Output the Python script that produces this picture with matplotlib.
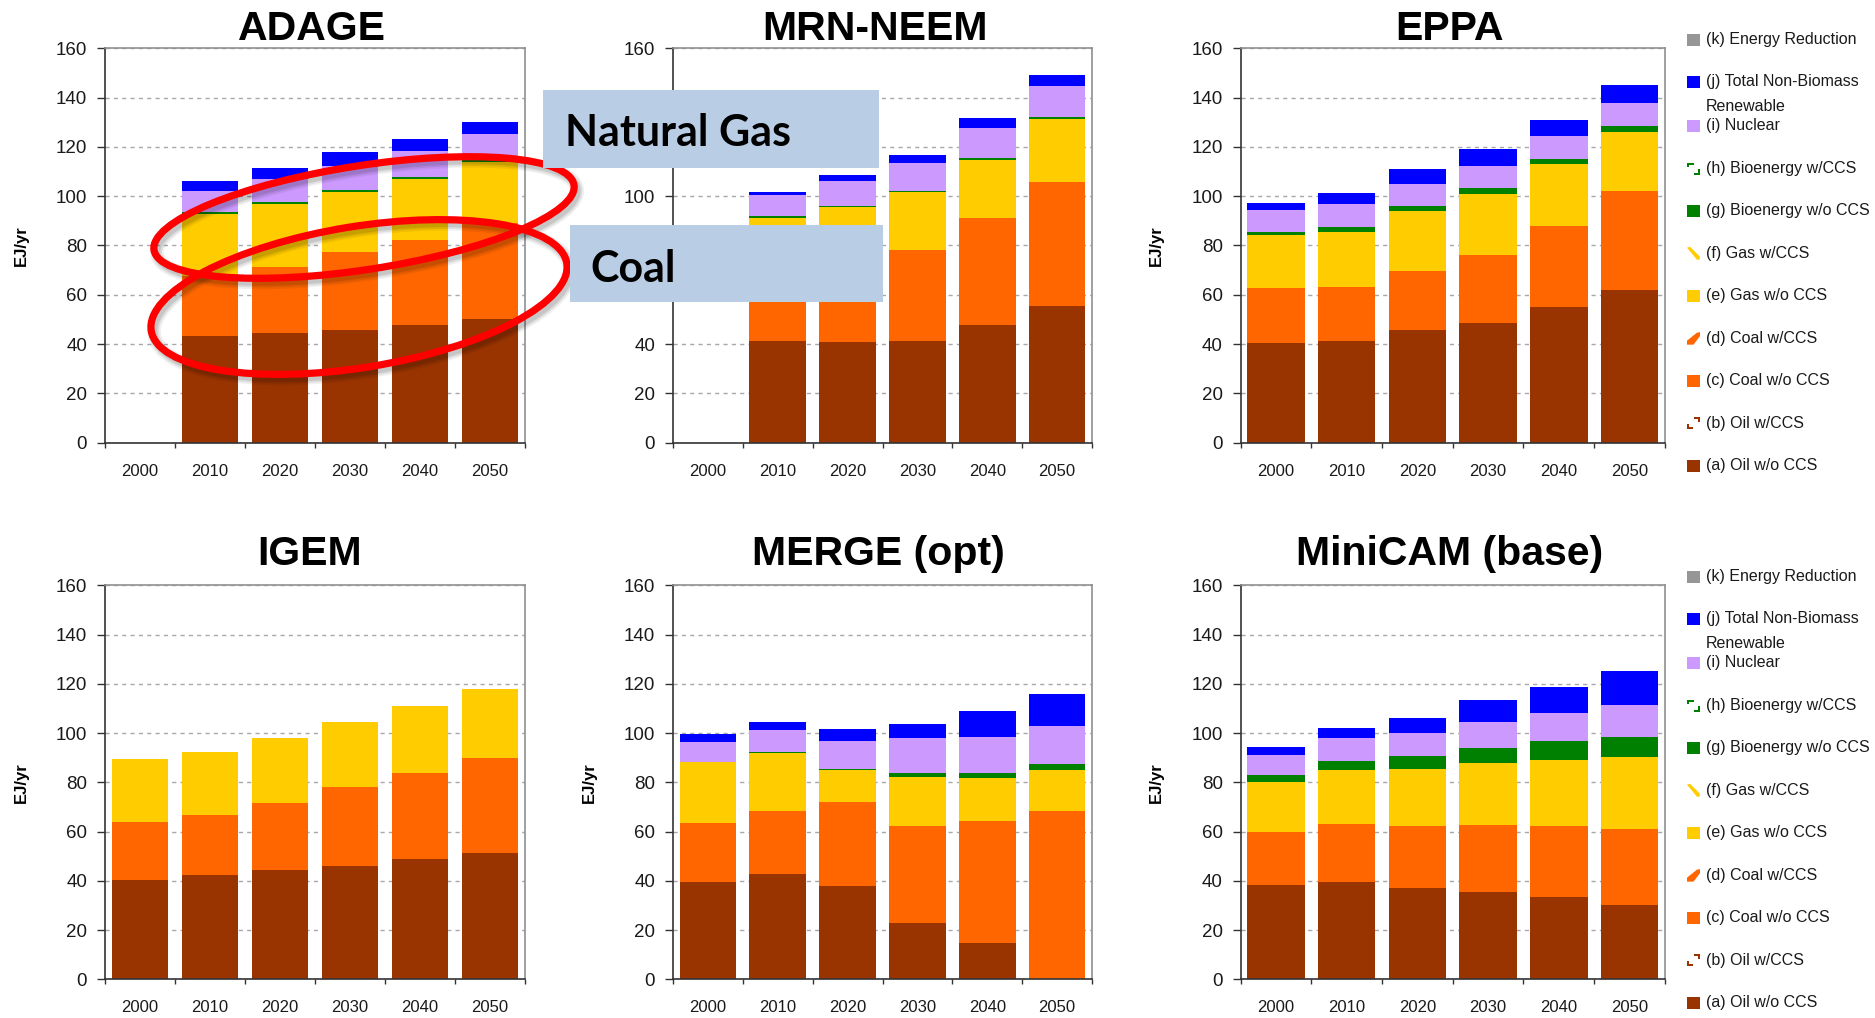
import matplotlib
matplotlib.use("Agg")
import matplotlib.pyplot as plt
from matplotlib.patches import Rectangle, Ellipse, Polygon
from matplotlib.ticker import FuncFormatter
import numpy as np

# ---------------------------------------------------------------------------
# Data: primary energy by source, EJ/yr (stacked segment heights)
# ---------------------------------------------------------------------------
years = ["2000", "2010", "2020", "2030", "2040", "2050"]

adage = {
    "oil": [0, 43.3, 44.6, 45.7, 47.7, 50.2],
    "coal": [0, 24.3, 26.7, 31.7, 34.7, 38.8],
    "gas": [0, 25.3, 25.7, 24.3, 24.6, 25.0],
    "bio": [0, 0.7, 0.6, 0.7, 0.8, 0.8],
    "nuclear": [0, 8.5, 9.4, 10.0, 10.7, 10.4],
    "renew": [0, 4.1, 4.4, 5.5, 4.7, 4.9],
}
mrn_neem = {
    "oil": [0, 41.3, 40.9, 41.3, 47.8, 55.5],
    "coal": [0, 24.7, 29.1, 36.9, 43.4, 50.3],
    "gas": [0, 25.3, 25.5, 23.7, 23.5, 25.6],
    "bio": [0, 0.7, 0.5, 0.4, 0.7, 0.7],
    "nuclear": [0, 8.5, 10.2, 11.2, 12.3, 12.7],
    "renew": [0, 1.2, 2.4, 3.3, 4.1, 4.5],
}
eppa = {
    "oil": [40.3, 41.1, 45.6, 48.4, 54.9, 62.1],
    "coal": [22.6, 22.2, 24.2, 27.9, 33.1, 40.1],
    "gas": [21.5, 22.3, 24.3, 24.6, 25.1, 23.8],
    "bio": [1.2, 2.0, 2.0, 2.5, 2.0, 2.4],
    "nuclear": [8.9, 9.3, 8.9, 8.9, 9.3, 9.3],
    "renew": [2.8, 4.4, 6.1, 6.8, 6.5, 7.3],
}
igem = {
    "oil": [40.3, 42.4, 44.4, 46.0, 48.9, 51.3],
    "coal": [23.6, 24.3, 27.2, 32.1, 34.9, 38.6],
    "gas": [25.5, 25.6, 26.4, 26.4, 27.2, 28.0],
}
merge_opt = {
    "oil": [39.5, 42.8, 37.9, 22.9, 14.8, 0],
    "coal": [24.0, 25.6, 34.1, 39.4, 49.5, 68.4],
    "gas": [24.8, 23.5, 13.1, 19.9, 17.5, 16.6],
    "bio": [0, 0.4, 0.4, 1.6, 2.0, 2.4],
    "nuclear": [8.1, 9.0, 11.3, 14.2, 14.6, 15.5],
    "renew": [3.2, 3.2, 4.9, 5.7, 10.6, 13.0],
}
minicam_base = {
    "oil": [38.1, 39.4, 36.9, 35.3, 33.3, 30.1],
    "coal": [21.9, 23.8, 25.5, 27.5, 29.1, 31.1],
    "gas": [20.2, 21.8, 23.0, 25.1, 26.7, 29.1],
    "bio": [2.8, 3.7, 5.3, 6.0, 7.7, 8.1],
    "nuclear": [8.1, 9.3, 9.3, 10.5, 11.2, 12.9],
    "renew": [3.2, 4.0, 6.1, 8.9, 10.9, 13.8],
}

series_colors = {
    "oil": "#993300",
    "coal": "#FF6600",
    "gas": "#FFCC00",
    "bio": "#008000",
    "nuclear": "#CC99FF",
    "renew": "#0000FF",
}

legend_labels = [
    "(k) Energy Reduction",
    "(j) Total Non-Biomass",
    "(i) Nuclear",
    "(h) Bioenergy w/CCS",
    "(g) Bioenergy w/o CCS",
    "(f) Gas w/CCS",
    "(e) Gas w/o CCS",
    "(d) Coal w/CCS",
    "(c) Coal w/o CCS",
    "(b) Oil w/CCS",
    "(a) Oil w/o CCS",
]

# ---------------------------------------------------------------------------
# Figure laid out in pixel units (top-left origin)
# ---------------------------------------------------------------------------
W, H = 1875, 1018
fig = plt.figure(figsize=(W / 100, H / 100), dpi=100)
fig.patch.set_facecolor("white")

TICK_FONT = "Liberation Sans"

def add_panel(data, left, right, top, bottom, covered_ticks=()):
    ax = fig.add_axes([left / W, 1 - bottom / H, (right - left) / W, (bottom - top) / H])
    x = np.arange(len(years))
    base = np.zeros(len(years))
    for key, vals in data.items():
        vals = np.asarray(vals, dtype=float)
        ax.bar(x, vals, bottom=base, width=0.81, color=series_colors[key],
               linewidth=0, zorder=2)
        base += vals
    ax.set_xlim(-0.5, len(years) - 0.5)
    ax.set_ylim(0, 160)
    ax.set_yticks(range(0, 161, 20))
    # tick labels that sit underneath the callout boxes are left blank
    ax.yaxis.set_major_formatter(
        FuncFormatter(lambda v, p: "" if v in covered_ticks else f"{v:g}"))
    ax.set_xticks(np.arange(-0.5, len(years), 1.0))
    ax.set_xticklabels([])
    ax.set_xticks(x, minor=True)
    ax.set_xticklabels(years, minor=True)
    ax.tick_params(axis="x", which="major", length=3.8, width=1.0, direction="out",
                   color="#333333")
    ax.tick_params(axis="x", which="minor", length=0, pad=15, labelsize=12,
                   labelcolor="#1a1a1a")
    ax.tick_params(axis="y", length=5.8, width=1.0, pad=7, labelsize=13.5,
                   labelcolor="#1a1a1a", color="#333333")
    for lab in ax.get_xticklabels(minor=True) + ax.get_yticklabels():
        lab.set_fontfamily(TICK_FONT)
    ax.yaxis.grid(True, color="#a8a8a8", linestyle=(0, (3, 3)), linewidth=1.0)
    ax.set_axisbelow(True)
    for side in ("left", "bottom"):
        ax.spines[side].set_color("#333333")
        ax.spines[side].set_linewidth(1.2)
    for side in ("top", "right"):
        ax.spines[side].set_color("#909090")
        ax.spines[side].set_linewidth(1.2)
    return ax

top_row = (48.3, 442.7)
bot_row = (585.3, 979.3)
cols = [(105, 525), (673, 1092), (1240.5, 1665)]

# title, data, columns, row, title centre x, y-label shown, covered y ticks
panels = [
    ("ADAGE", adage, cols[0], top_row, 312, True, ()),
    ("MRN-NEEM", mrn_neem, cols[1], top_row, 875, False, (60, 80, 120)),
    ("EPPA", eppa, cols[2], top_row, 1450, True, ()),
    ("IGEM", igem, cols[0], bot_row, 310, True, ()),
    ("MERGE (opt)", merge_opt, cols[1], bot_row, 878, True, ()),
    ("MiniCAM (base)", minicam_base, cols[2], bot_row, 1450, True, ()),
]

for title, data, (l, r), (t, b), tx, ylab, covered in panels:
    add_panel(data, l, r, t, b, covered)

# ---------------------------------------------------------------------------
# Overlay in pixel coordinates: titles, axis labels, legends, annotations
# ---------------------------------------------------------------------------
ov = fig.add_axes([0, 0, 1, 1], zorder=10)
ov.set_xlim(0, W)
ov.set_ylim(H, 0)
ov.axis("off")
ov.patch.set_alpha(0)

for title, data, (l, r), (t, b), tx, ylab, covered in panels:
    ov.text(tx, t - (8 if t < 100 else 20), title, ha="center", va="baseline",
            fontsize=29.5, fontweight="bold", family="Liberation Sans", color="black",
            zorder=2)
    if ylab:
        ov.text(l - 84, (t + b) / 2, "EJ/yr", rotation=90, ha="center", va="center",
                fontsize=12, fontweight="bold", family="Liberation Sans", color="black",
                zorder=2)

# Legends (one beside each row)
legend_dy = 42.45
MX0, MX1 = 1687, 1700
TX = 1705.5

def draw_marker(kind, color, yc):
    if kind == "solid":
        ov.add_patch(Rectangle((MX0, yc - 6), MX1 - MX0, 12, facecolor=color,
                               edgecolor="none"))
    elif kind == "corner_tl_br":
        ov.add_patch(Polygon([(1687, yc - 5.5), (1693.5, yc - 5.5), (1693.5, yc - 3.5),
                              (1689.3, yc - 3.5), (1689.3, yc - 1.3), (1687, yc - 1.3)],
                             closed=True, facecolor=color, edgecolor="none"))
        ov.add_patch(Polygon([(1700, yc + 1), (1700, yc + 6.5), (1693.5, yc + 6.5),
                              (1693.5, yc + 4.5), (1697.7, yc + 4.5), (1697.7, yc + 1)],
                             closed=True, facecolor=color, edgecolor="none"))
    elif kind == "corner_tr_bl":
        ov.add_patch(Polygon([(1694, yc - 6), (1700, yc - 6), (1700, yc - 1),
                              (1697.8, yc - 1), (1697.8, yc - 4), (1694, yc - 4)],
                             closed=True, facecolor=color, edgecolor="none"))
        ov.add_patch(Polygon([(1687, yc + 1), (1689.2, yc + 1), (1689.2, yc + 4),
                              (1693, yc + 4), (1693, yc + 6), (1687, yc + 6)],
                             closed=True, facecolor=color, edgecolor="none"))
    elif kind == "back_slash":
        ov.add_patch(Polygon([(1687, yc - 5.5), (1690, yc - 6.5), (1700, yc + 3.5),
                              (1699.5, yc + 6.5), (1697, yc + 6.5)],
                             closed=True, facecolor=color, edgecolor="none"))
    elif kind == "slash_wedge":
        ov.add_patch(Polygon([(1687, yc + 6.5), (1687, yc + 2.5), (1697, yc - 5.5),
                              (1700, yc - 6), (1700, yc - 2), (1693.5, yc + 6.5)],
                             closed=True, facecolor=color, edgecolor="none"))

legend_markers = [
    ("solid", "#969696"),
    ("solid", "#0000FF"),
    ("solid", "#CC99FF"),
    ("corner_tl_br", "#008000"),
    ("solid", "#008000"),
    ("back_slash", "#FFCC00"),
    ("solid", "#FFCC00"),
    ("slash_wedge", "#FF6600"),
    ("solid", "#FF6600"),
    ("corner_tr_bl", "#993300"),
    ("solid", "#993300"),
]

for y0 in (39.5, 576.5):
    for i, (label, (kind, color)) in enumerate(zip(legend_labels, legend_markers)):
        yc = y0 + i * legend_dy
        if i >= 2:
            yc += 1.5
        draw_marker(kind, color, yc)
        ov.text(TX, yc, label, ha="left", va="center", fontsize=11.5,
                family="Liberation Sans", color="#1a1a1a")
        if i == 1:
            ov.text(TX, yc + 25, "Renewable", ha="left", va="center", fontsize=11.5,
                    family="Liberation Sans", color="#1a1a1a")

# Highlight ellipses around the gas and coal bands of the ADAGE panel
ellipses = [
    ((364, 217.5), 425, 104, -8.8),
    ((359, 297), 421, 141, -9.25),
]
for (cx, cy), w, h, ang in ellipses:
    for k, a in enumerate([0.10, 0.08, 0.06]):
        ov.add_patch(Ellipse((cx + 3, cy + 4), w, h, angle=ang, fill=False,
                             edgecolor="black", linewidth=5 + 2.5 * k, alpha=a, zorder=3))
    ov.add_patch(Ellipse((cx, cy), w, h, angle=ang, fill=False,
                         edgecolor="#FF0000", linewidth=5.2, zorder=3.5))

# Callout boxes
BOX = "#B9CDE5"
ov.add_patch(Rectangle((543, 90), 879 - 543, 167.7 - 90, facecolor=BOX,
                       edgecolor="none", zorder=4))
ov.text(565, 129, "Natural Gas", ha="left", va="center_baseline", fontsize=31,
        fontweight="bold", family="Lato", color="black", zorder=5)
ov.add_patch(Rectangle((570, 225), 883 - 570, 302.3 - 225, facecolor=BOX,
                       edgecolor="none", zorder=4))
ov.text(590.5, 265, "Coal", ha="left", va="center_baseline", fontsize=31,
        fontweight="bold", family="Lato", color="black", zorder=5)

fig.savefig("out.png", dpi=100, facecolor="white")
